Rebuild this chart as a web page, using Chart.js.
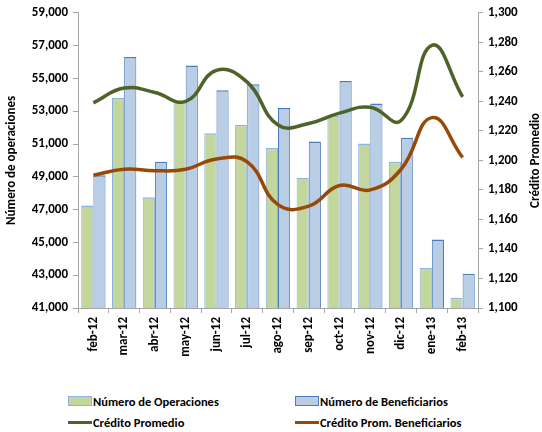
<!DOCTYPE html>
<html lang="es">
<head>
  <meta charset="UTF-8" />
  <title>Operaciones y crédito promedio</title>
  <script src="https://cdn.jsdelivr.net/npm/chart.js"></script>
  <style>
    body { margin: 0; background: #fff; font-family: Carlito, 'Liberation Sans Narrow', 'Open Sans', sans-serif; }
    #wrap { position: relative; width: 542px; height: 360px; }
    #legend { position: absolute; left: 68px; top: 393px; width: 474px; display: grid;
      grid-template-columns: 227px 240px; row-gap: 5px; font-size: 12.5px; font-weight: bold; color: #000; }
    .item { display: flex; align-items: center; height: 16px; white-space: nowrap; }
    .swatch { width: 24px; margin-right: 1px; box-sizing: border-box; }
  </style>
</head>
<body>
  <div id="wrap"><canvas id="chart"></canvas></div>
  <div id="legend"></div>

  <script>
    // meses
    const months = ['feb-12', 'mar-12', 'abr-12', 'may-12', 'jun-12', 'jul-12', 'ago-12',
                    'sep-12', 'oct-12', 'nov-12', 'dic-12', 'ene-13', 'feb-13'];

    // eje izquierdo: número de operaciones / beneficiarios
    const operaciones   = [47250, 53800, 47750, 53600, 51650, 52180, 50770, 48920, 52710, 51030, 49920, 43440, 41630];
    const beneficiarios = [49100, 56300, 49920, 55790, 54270, 54640, 53200, 51150, 54840, 53470, 51380, 45180, 43090];

    // eje derecho: crédito promedio
    const creditoProm      = [1239, 1249, 1246, 1240, 1261, 1253, 1224, 1225, 1232, 1236, 1227, 1278, 1243];
    const creditoPromBenef = [1190, 1194, 1193, 1194, 1201, 1199, 1170, 1169, 1183, 1180, 1194, 1229, 1202];

    const font = { family: "Carlito, 'Liberation Sans Narrow', 'Open Sans', sans-serif", size: 13, weight: 'bold' };
    const axisGrey = '#a6a6a6';
    const fmt = v => v.toLocaleString('en-US');

    // título del eje derecho, leído de abajo hacia arriba
    const rightTitle = {
      id: 'rightTitle',
      afterDraw(chart) {
        const { ctx, chartArea } = chart;
        ctx.save();
        ctx.translate(536, (chartArea.top + chartArea.bottom) / 2);
        ctx.rotate(-Math.PI / 2);
        ctx.font = `bold ${font.size}px ${font.family}`;
        ctx.fillStyle = '#000';
        ctx.textAlign = 'center';
        ctx.textBaseline = 'middle';
        ctx.fillText('Crédito Promedio', 0, 0);
        ctx.restore();
      }
    };

    const ctx = document.getElementById('chart').getContext('2d');
    const chart = new Chart(ctx, {
      data: {
        labels: months,
        datasets: [
          {
            type: 'line', label: 'Crédito Promedio', data: creditoProm, yAxisID: 'y1',
            borderColor: '#4f6228', borderWidth: 3.5, pointRadius: 0, tension: 0.45, order: 1
          },
          {
            type: 'line', label: 'Crédito Prom. Beneficiarios', data: creditoPromBenef, yAxisID: 'y1',
            borderColor: '#984807', borderWidth: 3.5, pointRadius: 0, tension: 0.45, order: 2
          },
          {
            type: 'bar', label: 'Número de Operaciones', data: operaciones, yAxisID: 'y',
            backgroundColor: '#c3d69b', borderColor: '#8db3e2', borderWidth: { top: 1.5, left: 1, right: 1, bottom: 0 },
            barPercentage: 1, categoryPercentage: 0.79, order: 3
          },
          {
            type: 'bar', label: 'Número de Beneficiarios', data: beneficiarios, yAxisID: 'y',
            backgroundColor: '#b9cde5', borderColor: '#4a7ebb', borderWidth: { top: 1.5, left: 1, right: 1, bottom: 0 },
            barPercentage: 1, categoryPercentage: 0.79, order: 4
          }
        ]
      },
      options: {
        responsive: true,
        maintainAspectRatio: false,
        animation: false,
        layout: { padding: { top: 12, left: 2, right: 0 } },
        plugins: { legend: { display: false }, tooltip: { enabled: false } },
        scales: {
          x: {
            offset: true,
            grid: { display: true, drawOnChartArea: false, offset: true, tickLength: 5, color: axisGrey },
            border: { color: axisGrey },
            ticks: { font, color: '#000', minRotation: 90, maxRotation: 90, padding: 4, autoSkip: false },
            afterFit: s => { s.height = 52; }
          },
          y: {
            position: 'left', min: 41000, max: 59000,
            grid: { display: true, drawOnChartArea: false, tickLength: 5, color: axisGrey },
            border: { color: axisGrey },
            ticks: { stepSize: 2000, font, color: '#000', padding: 5, callback: fmt },
            title: { display: true, text: 'Número de operaciones', font, color: '#000', padding: 2 },
            afterFit: s => { s.width = 76; }
          },
          y1: {
            position: 'right', min: 1100, max: 1300,
            grid: { display: true, drawOnChartArea: false, tickLength: 5, color: axisGrey },
            border: { color: axisGrey },
            ticks: { stepSize: 20, font, color: '#000', padding: 5, callback: fmt },
            afterFit: s => { s.width = 64; }
          }
        }
      },
      plugins: [rightTitle]
    });

    // leyenda en dos columnas, construida a partir de los datasets
    const order = [2, 3, 0, 1];
    const legend = document.getElementById('legend');
    order.forEach(i => {
      const ds = chart.data.datasets[i];
      const item = document.createElement('div');
      item.className = 'item';
      const sw = document.createElement('span');
      sw.className = 'swatch';
      if (ds.type === 'bar') {
        sw.style.height = '10px';
        sw.style.background = ds.backgroundColor;
        sw.style.border = '1px solid ' + ds.borderColor;
      } else {
        sw.style.height = '3px';
        sw.style.background = ds.borderColor;
      }
      item.appendChild(sw);
      item.appendChild(document.createTextNode(ds.label));
      legend.appendChild(item);
    });
  </script>
</body>
</html>
